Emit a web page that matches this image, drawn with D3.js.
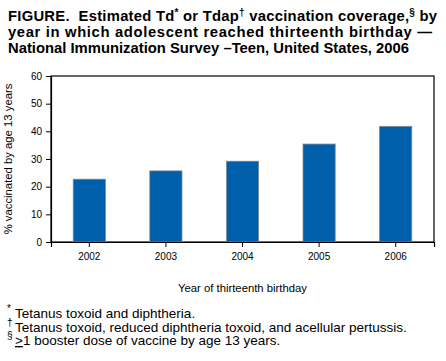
<!DOCTYPE html>
<html>
  <head>
    <script src="https://d3js.org/d3.v7.min.js"></script>
    <style>
      body { margin: 0; background: #fff; }
      text { font-family: "Liberation Sans", Arial, Helvetica, sans-serif; }
    </style>
  </head>
  <body>
    <svg width="446" height="361"></svg>
    <script>
      // data
      var years = ["2002", "2003", "2004", "2005", "2006"];
      var coverage = [22.7, 25.7, 29.2, 35.4, 41.8];
      var yTicks = [0, 10, 20, 30, 40, 50, 60];

      var svg = d3.select("svg");
      var plotL = 51, plotR = 434, plotT = 76, plotB = 242;

      var x = d3.scaleBand().domain(years).range([plotL, plotR]).paddingInner(0.58).paddingOuter(0.29);
      var y = d3.scaleLinear().domain([0, 60]).range([plotB, plotT]);

      // title (first two lines are justified in the original)
      var title = [
        [{t: "FIGURE.\u00a0 Estimated Td"}, {t: "*", sup: true}, {t: " or Tdap"}, {t: "\u2020", sup: true}, {t: " vaccination coverage,"}, {t: "\u00a7", sup: true}, {t: " by"}],
        [{t: "year in which adolescent reached thirteenth birthday \u2014"}],
        [{t: "National Immunization Survey \u2013Teen, United States, 2006"}]
      ];
      var titleWidths = [429, 424, null];
      title.forEach(function(parts, i) {
        var t = svg.append("text")
          .attr("x", 8).attr("y", 21 + i * 16)
          .style("font-size", "14.8px").style("font-weight", "bold").attr("fill", "#000");
        if (titleWidths[i]) t.attr("textLength", titleWidths[i]).attr("lengthAdjust", "spacing");
        parts.forEach(function(p, j) {
          var s = t.append("tspan").text(p.t);
          if (p.sup) s.attr("dy", -5).style("font-size", "10px");
          else if (j > 0 && parts[j - 1].sup) s.attr("dy", 5);
        });
      });

      // plot frame
      svg.append("rect")
        .attr("x", plotL).attr("y", plotT)
        .attr("width", plotR - plotL).attr("height", plotB - plotT)
        .attr("fill", "none").attr("stroke", "#000").attr("stroke-width", 1.2);

      // bars
      svg.selectAll(".bar")
        .data(coverage)
        .enter().append("rect")
          .attr("class", "bar")
          .attr("x", function(d, i) { return x(years[i]); })
          .attr("y", function(d) { return y(d); })
          .attr("width", x.bandwidth())
          .attr("height", function(d) { return plotB - y(d); })
          .attr("fill", "#005FAA")
          .attr("stroke", "#7d8790")
          .attr("stroke-width", 0.8);

      // axes
      var yAxis = svg.append("g")
        .attr("transform", "translate(" + plotL + ",0)")
        .call(d3.axisLeft(y).tickValues(yTicks).tickSize(5).tickPadding(4));
      var xAxis = svg.append("g")
        .attr("transform", "translate(0," + plotB + ")")
        .call(d3.axisBottom(x).tickSize(5).tickPadding(6));
      [xAxis, yAxis].forEach(function(g) {
        g.select(".domain").attr("stroke", "#000").attr("stroke-width", 1.2);
        g.selectAll(".tick line").attr("stroke", "#000");
        g.selectAll(".tick text").attr("fill", "#000")
          .style("font-family", "'Liberation Sans', Arial, sans-serif").style("font-size", "10px");
      });

      // axis titles
      svg.append("text")
        .attr("x", (plotL + plotR) / 2).attr("y", 292)
        .attr("text-anchor", "middle").style("font-size", "11.3px")
        .text("Year of thirteenth birthday");
      svg.append("text")
        .attr("transform", "translate(12," + ((plotT + plotB) / 2) + ") rotate(-90)")
        .attr("text-anchor", "middle").style("font-size", "11.3px")
        .text("% vaccinated by age 13 years");

      // footnotes
      var notes = [
        {mark: "*", text: "Tetanus toxoid and diphtheria."},
        {mark: "\u2020", text: "Tetanus toxoid, reduced diphtheria toxoid, and acellular pertussis."},
        {mark: "\u00a7", text: null}
      ];
      notes.forEach(function(n, i) {
        var yy = 318 + i * 13.5;
        svg.append("text").attr("x", 7).attr("y", yy - 6)
          .style("font-size", "10px").text(n.mark);
        var t = svg.append("text").attr("x", 15).attr("y", yy).style("font-size", "13.5px");
        if (n.text) t.text(n.text);
        else {
          t.append("tspan").style("text-decoration", "underline").text(">");
          t.append("tspan").text("1 booster dose of vaccine by age 13 years.");
        }
      });
    </script>
  </body>
</html>
